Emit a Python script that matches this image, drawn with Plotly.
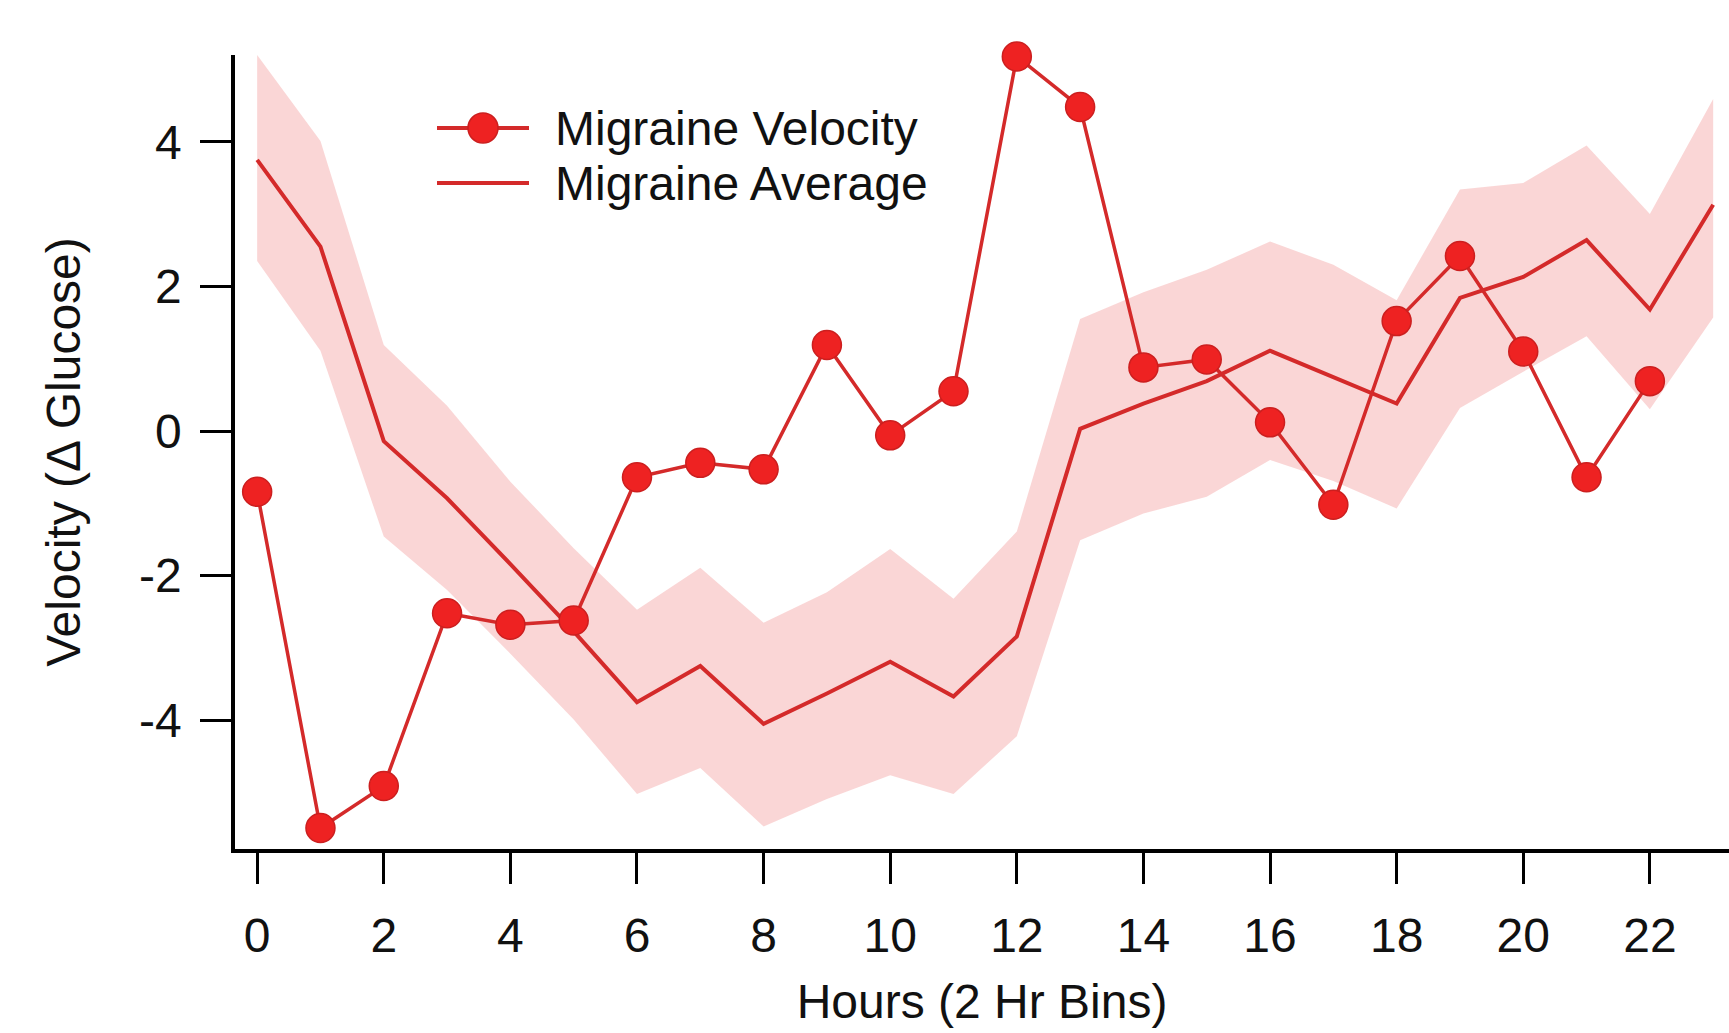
import plotly.graph_objects as go

# Two-hour bins
hours_vel = list(range(0, 23))
hours_avg = list(range(0, 24))

# Migraine velocity (per-bin change in glucose)
migraine_velocity = [-0.84, -5.49, -4.91, -2.52, -2.68, -2.62, -0.64, -0.44, -0.53, 1.19,
                     -0.06, 0.55, 5.18, 4.48, 0.88, 0.99, 0.12, -1.02, 1.52, 2.42,
                     1.10, -0.64, 0.69]

# Migraine average with its shaded spread
migraine_average = [3.75, 2.55, -0.14, -0.93, -1.84, -2.77, -3.75, -3.25, -4.05, -3.63,
                    -3.19, -3.67, -2.84, 0.03, 0.38, 0.69, 1.11, 0.75, 0.38, 1.84,
                    2.13, 2.64, 1.68, 3.13]
average_upper = [5.20, 4.01, 1.19, 0.35, -0.70, -1.62, -2.47, -1.89, -2.65, -2.23,
                 -1.63, -2.32, -1.39, 1.55, 1.92, 2.23, 2.62, 2.30, 1.81, 3.34,
                 3.43, 3.95, 3.00, 4.59]
average_lower = [2.35, 1.11, -1.46, -2.20, -3.08, -3.99, -5.02, -4.66, -5.47, -5.09,
                 -4.76, -5.02, -4.22, -1.51, -1.14, -0.91, -0.40, -0.69, -1.07, 0.32,
                 0.82, 1.31, 0.30, 1.57]

x_ticks = list(range(0, 23, 2))
y_ticks = [-4, -2, 0, 2, 4]

W, H = 1729, 1033
ML, MR, MT, MB = 235, 0, 55, 184

LINE_RED = "#d42a2a"
MARK_RED = "#ee2222"
MARK_EDGE = "#cc1f1f"
BAND = "rgba(240,120,120,0.30)"
FONT = "Liberation Sans, Arial, sans-serif"

fig = go.Figure()

# shaded spread around the average
fig.add_trace(go.Scatter(x=hours_avg, y=average_upper, mode="lines",
                         line=dict(width=0), hoverinfo="skip", showlegend=False))
fig.add_trace(go.Scatter(x=hours_avg, y=average_lower, mode="lines",
                         line=dict(width=0), fill="tonexty", fillcolor=BAND,
                         hoverinfo="skip", showlegend=False))

fig.add_trace(go.Scatter(x=hours_avg, y=migraine_average, mode="lines",
                         line=dict(color=LINE_RED, width=4),
                         name="Migraine Average", showlegend=False))

fig.add_trace(go.Scatter(x=hours_vel, y=migraine_velocity, mode="lines+markers",
                         line=dict(color=LINE_RED, width=3.5),
                         marker=dict(size=29, color=MARK_RED,
                                     line=dict(color=MARK_EDGE, width=1.5)),
                         cliponaxis=False,
                         name="Migraine Velocity", showlegend=False))

# hand-built legend in pixel space (converted to paper coordinates)
pw = W - ML - MR
ph = H - MT - MB


def px(xp):
    return (xp - ML) / pw


def py(yp):
    return (H - MB - yp) / ph


legend_rows = [("Migraine Velocity", 128, True), ("Migraine Average", 183, False)]
shapes = []
annotations = []
for label, yrow, with_marker in legend_rows:
    shapes.append(dict(type="line", xref="paper", yref="paper",
                       x0=px(437), x1=px(529), y0=py(yrow), y1=py(yrow),
                       line=dict(color=LINE_RED, width=4)))
    if with_marker:
        r = 15
        shapes.append(dict(type="circle", xref="paper", yref="paper",
                           x0=px(483 - r), x1=px(483 + r), y0=py(yrow + r), y1=py(yrow - r),
                           fillcolor=MARK_RED, line=dict(color=MARK_EDGE, width=1.5)))
    annotations.append(dict(text=label, xref="paper", yref="paper",
                            x=px(553), y=py(yrow), xanchor="left", yanchor="middle",
                            showarrow=False, font=dict(family=FONT, size=48, color="#111")))

fig.update_layout(
    width=W, height=H,
    margin=dict(l=ML, r=MR, t=MT, b=MB),
    paper_bgcolor="white", plot_bgcolor="white",
    font=dict(family=FONT, color="#111"),
    shapes=shapes, annotations=annotations,
    showlegend=False,
)

fig.update_xaxes(
    range=[-0.35, 23.25], tickvals=x_ticks, ticktext=[str(v) for v in x_ticks],
    showgrid=False, zeroline=False,
    showline=True, linecolor="black", linewidth=3.5,
    ticks="outside", ticklen=31, tickwidth=3, tickcolor="black",
    tickfont=dict(family=FONT, size=48, color="#111"), ticklabelstandoff=11,
    title=dict(text="Hours (2 Hr Bins)", font=dict(family=FONT, size=48, color="#111"), standoff=24),
)
fig.update_yaxes(
    range=[-5.78, 5.2], tickvals=y_ticks, ticktext=[str(v) for v in y_ticks],
    showgrid=False, zeroline=False,
    showline=True, linecolor="black", linewidth=3.5,
    ticks="outside", ticklen=31, tickwidth=3, tickcolor="black",
    tickfont=dict(family=FONT, size=48, color="#111"), ticklabelstandoff=9,
    title=dict(text="Velocity (Δ Glucose)", font=dict(family=FONT, size=48, color="#111"), standoff=44),
)

fig.write_html("out.html")
